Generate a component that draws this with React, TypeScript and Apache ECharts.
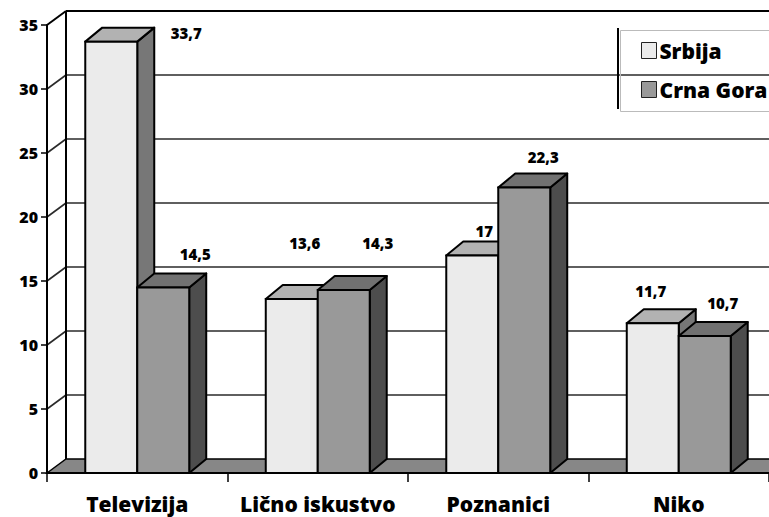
import React, { useEffect, useRef } from "react";
import * as echarts from "echarts";

const categories = ["Televizija", "Lično iskustvo", "Poznanici", "Niko"];
const seriesNames = ["Srbija", "Crna Gora"];
const srbija = [33.7, 13.6, 17, 11.7];
const crnaGora = [14.5, 14.3, 22.3, 10.7];
const yTicks = [0, 5, 10, 15, 20, 25, 30, 35];

// styling (not data)
const FONT = "Open Sans";
const faceColors = [
  { front: "#ebebeb", top: "#b2b2b2", side: "#777777" },
  { front: "#999999", top: "#717171", side: "#4d4d4d" },
];
// label nudges in px relative to bar front-top centre
const labelNudge = [
  [[75, -9], [13, -56], [12, -24], [-2, -32]],
  [[32, -33], [34, -47], [19, -31], [18, -33]],
];
const WALL_DX = 19;
const WALL_DY = -14;
const BAR_DX = 17;
const BAR_DY = -14;
const BAR_RATIO = 0.288;

const fmt = (v: number) => String(v).replace(".", ",");

export default function App() {
  const ref = useRef<HTMLDivElement>(null);
  useEffect(() => {
    if (!ref.current) return;
    const chart = echarts.init(ref.current, null, { renderer: "svg" });

    const wallSeries = {
      type: "custom",
      name: "walls",
      silent: true,
      z: 1,
      data: [[0, 0]],
      renderItem: (params: any, api: any) => {
        const cs = params.coordSys;
        const x0 = cs.x;
        const x1 = cs.x + cs.width;
        const y0 = api.coord([0, 0])[1];
        const ytop = api.coord([0, yTicks[yTicks.length - 1]])[1];
        const children: any[] = [];
        children.push({
          type: "polygon",
          shape: {
            points: [
              [x0, y0],
              [x0 + WALL_DX, y0 + WALL_DY],
              [x1 + WALL_DX + 40, y0 + WALL_DY],
              [x1 + 40, y0],
            ],
          },
          style: { fill: "#878787", stroke: "#000", lineWidth: 1.5 },
        });
        yTicks.forEach((v) => {
          if (v === 0) return;
          const y = api.coord([0, v])[1];
          const isTop = v === yTicks[yTicks.length - 1];
          const stroke = isTop ? "#000" : "#2a2a2a";
          const lw = isTop ? 2 : 1.6;
          children.push({
            type: "line",
            shape: { x1: x0, y1: y, x2: x0 + WALL_DX, y2: y + WALL_DY },
            style: { stroke, lineWidth: lw },
          });
          children.push({
            type: "line",
            shape: { x1: x0 + WALL_DX, y1: y + WALL_DY, x2: x1 + 60, y2: y + WALL_DY },
            style: { stroke, lineWidth: lw },
          });
        });
        children.push({
          type: "line",
          shape: { x1: x0 + WALL_DX, y1: y0 + WALL_DY, x2: x0 + WALL_DX, y2: ytop + WALL_DY },
          style: { stroke: "#000", lineWidth: 2 },
        });
        return { type: "group", children };
      },
    };

    const barSeries = [srbija, crnaGora].map((vals, s) => ({
      type: "custom",
      name: seriesNames[s],
      silent: true,
      z: 2,
      itemStyle: { color: faceColors[s].front },
      data: vals.map((v, i) => [i, v]),
      renderItem: (params: any, api: any) => {
        const i = api.value(0);
        const v = api.value(1);
        const top = api.coord([i, v]);
        const bot = api.coord([i, 0]);
        const cx = top[0];
        const yTop = top[1];
        const yBot = bot[1];
        const bw = api.size([1, 0])[0] * BAR_RATIO;
        const left = s === 0 ? cx - bw : cx;
        const right = left + bw;
        const c = faceColors[s];
        const nudge = labelNudge[s][i];
        return {
          type: "group",
          children: [
            {
              type: "polygon",
              shape: {
                points: [
                  [right, yTop],
                  [right + BAR_DX, yTop + BAR_DY],
                  [right + BAR_DX, yBot + BAR_DY],
                  [right, yBot],
                ],
              },
              style: { fill: c.side, stroke: "#000", lineWidth: 2, lineJoin: "round" },
            },
            {
              type: "polygon",
              shape: {
                points: [
                  [left, yTop],
                  [left + BAR_DX, yTop + BAR_DY],
                  [right + BAR_DX, yTop + BAR_DY],
                  [right, yTop],
                ],
              },
              style: { fill: c.top, stroke: "#000", lineWidth: 2, lineJoin: "round" },
            },
            {
              type: "rect",
              shape: { x: left, y: yTop, width: bw, height: yBot - yTop },
              style: { fill: c.front, stroke: "#000", lineWidth: 2 },
            },
            {
              type: "text",
              x: left + bw / 2 + nudge[0],
              y: yTop + nudge[1],
              style: {
                text: fmt(v),
                fill: "#000",
                font: `800 15px "${FONT}"`,
                align: "center",
                verticalAlign: "middle",
              },
            },
          ],
        };
      },
    }));

    chart.setOption({
      animation: false,
      backgroundColor: "#fff",
      grid: { left: 47, right: 0, top: 25, bottom: 44, containLabel: false },
      xAxis: {
        type: "category",
        data: categories,
        axisLine: { lineStyle: { color: "#000", width: 2 } },
        axisTick: { show: true, length: 9, lineStyle: { color: "#000", width: 1.5 } },
        axisLabel: {
          color: "#000",
          fontSize: 21,
          fontWeight: 800,
          fontFamily: FONT,
          margin: 20,
          interval: 0,
          hideOverlap: false,
        },
        splitLine: { show: false },
        z: 5,
      },
      yAxis: {
        type: "value",
        min: 0,
        max: 35,
        interval: 5,
        axisLine: { show: true, lineStyle: { color: "#000", width: 2 } },
        axisTick: { show: true, length: 6, lineStyle: { color: "#000", width: 1.5 } },
        axisLabel: {
          color: "#000",
          fontSize: 16,
          fontWeight: 800,
          fontFamily: FONT,
          margin: 9,
        },
        splitLine: { show: false },
        z: 5,
      },
      legend: {
        orient: "vertical",
        left: 636,
        top: 35,
        itemWidth: 15,
        itemHeight: 16,
        itemGap: 18,
        selectedMode: false,
        icon: "rect",
        textStyle: {
          color: "#000",
          fontSize: 21,
          fontWeight: 800,
          fontFamily: FONT,
          lineHeight: 18,
          padding: [0, 0, 0, -2],
        },
        data: seriesNames.map((n, s) => ({
          name: n,
          itemStyle: { color: faceColors[s].front, borderColor: "#222", borderWidth: 1 },
        })),
      },
      graphic: [
        {
          type: "rect",
          left: 618,
          top: 28,
          shape: { width: 170, height: 81 },
          style: { fill: "none", stroke: "#bbb", lineWidth: 1 },
          z: 10,
        },
        {
          type: "line",
          shape: { x1: 618, y1: 28, x2: 618, y2: 109 },
          style: { stroke: "#000", lineWidth: 2 },
          z: 11,
        },
      ],
      series: [wallSeries, ...barSeries],
    });
    return () => chart.dispose();
  }, []);
  return (
    <div
      ref={ref}
      style={{ position: "absolute", left: 0, top: 0, width: 769, height: 517 }}
    />
  );
}
